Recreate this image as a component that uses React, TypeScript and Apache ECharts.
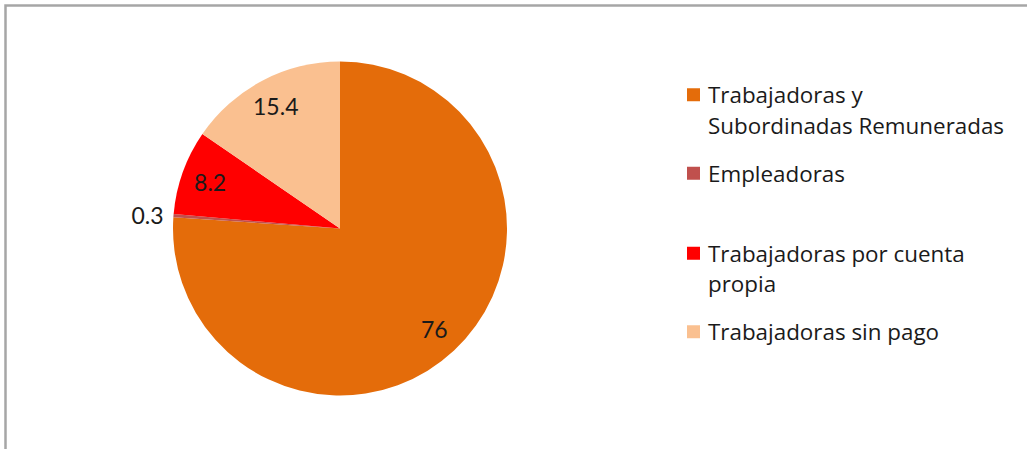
import React, { useEffect, useRef } from "react";
import * as echarts from "echarts";

const categories = [
  "Trabajadoras y Subordinadas Remuneradas",
  "Empleadoras",
  "Trabajadoras por cuenta propia",
  "Trabajadoras sin pago",
];
const legendLabels = [
  "Trabajadoras y\nSubordinadas Remuneradas",
  "Empleadoras",
  "Trabajadoras por cuenta\npropia",
  "Trabajadoras sin pago",
];
const values = [76, 0.3, 8.2, 15.4];
const colors = ["#E46C0A", "#C0504D", "#FF0000", "#FAC090"];

const FONT = "Lato";
const LEGEND_FONT = "Open Sans";

export default function App() {
  const ref = useRef<HTMLDivElement>(null);
  useEffect(() => {
    if (!ref.current) return;
    const chart = echarts.init(ref.current, null, { renderer: "svg" });
    const legendTops = [44, 153, 202.5, 311.5];
    const legends = categories.map((name, i) => {
      const twoLine = legendLabels[i].includes("\n");
      return {
        data: [name],
        left: 682,
        top: legendTops[i],
        orient: "vertical",
        icon: "rect",
        itemWidth: 13,
        itemHeight: 13,
        selectedMode: false,
        formatter: () => (twoLine ? "\n" + legendLabels[i] : legendLabels[i]),
        textStyle: {
          fontFamily: LEGEND_FONT,
          fontSize: 22.4,
          color: "#1a1a1a",
          lineHeight: 30.5,
          padding: [0, 0, 0, 3],
        },
      };
    });
    chart.setOption({
      animation: false,
      backgroundColor: "#ffffff",
      color: colors,
      legend: legends,
      graphic: [
        {
          type: "rect",
          shape: { x: 5.5, y: 5.5, width: 1040, height: 460 },
          style: { fill: "none", stroke: "#A6A6A6", lineWidth: 2.5 },
          silent: true,
        },
      ],
      series: [
        {
          type: "pie",
          center: [340, 228.5],
          radius: [0, 167],
          startAngle: 90,
          clockwise: true,
          avoidLabelOverlap: false,
          label: { show: false },
          labelLine: { show: false },
          emphasis: { disabled: true },
          data: categories.map((name, i) => ({
            name,
            value: values[i],
            label:
              i === 1
                ? {
                    show: true,
                    position: "outside",
                    formatter: "{c}",
                    fontFamily: FONT,
                    fontSize: 23,
                    color: "#1a1a1a",
                    distanceToLabelLine: 5,
                  }
                : { show: false },
            labelLine: i === 1 ? { show: false, length: 5, length2: 0 } : { show: false },
          })),
        },
        {
          type: "pie",
          center: [340, 228.5],
          radius: [0, 270],
          startAngle: 90,
          clockwise: true,
          silent: true,
          avoidLabelOverlap: false,
          itemStyle: { color: "rgba(0,0,0,0)" },
          labelLine: { show: false },
          emphasis: { disabled: true },
          label: {
            show: true,
            position: "inside",
            formatter: "{c}",
            fontFamily: FONT,
            fontSize: 23,
            color: "#1a1a1a",
          },
          data: categories.map((name, i) => ({
            name,
            value: values[i],
            label: i === 1 ? { show: false } : undefined,
          })),
        },
      ],
    });
    return () => chart.dispose();
  }, []);
  return (
    <div
      ref={ref}
      style={{ position: "fixed", left: 0, top: 0, width: 1027, height: 449 }}
    />
  );
}
